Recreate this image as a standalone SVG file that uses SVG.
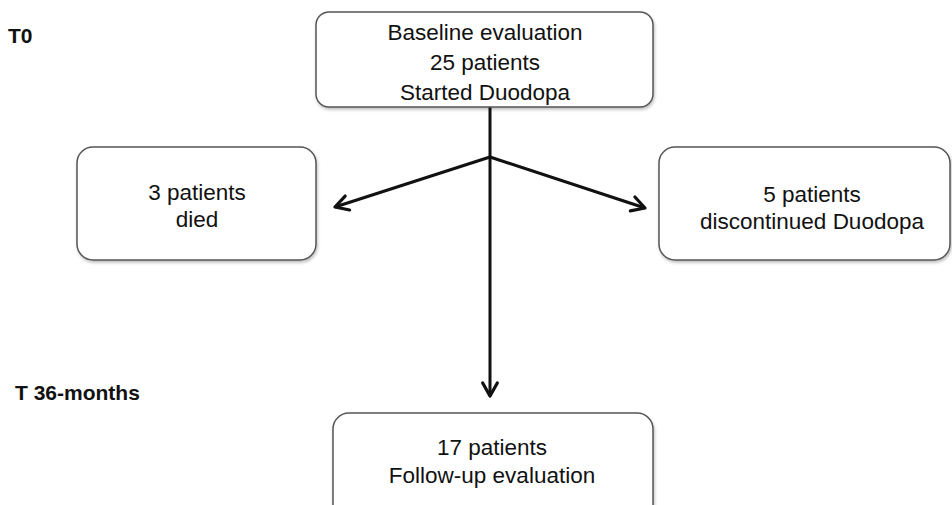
<svg xmlns="http://www.w3.org/2000/svg" width="952" height="505" viewBox="0 0 952 505">
<defs>
<marker id="ah" viewBox="0 0 12 12" refX="10" refY="6" markerWidth="6.5" markerHeight="6.5" markerUnits="strokeWidth" orient="auto">
<path d="M2,1.5 L10,6 L2,10.5" fill="none" stroke="#111" stroke-width="2" stroke-linecap="round" stroke-linejoin="round"/>
</marker>
<filter id="sh" x="-5%" y="-5%" width="110%" height="115%">
<feDropShadow dx="1" dy="2" stdDeviation="1.5" flood-color="#000" flood-opacity="0.25"/>
</filter>
</defs>
<style>
.box{fill:#fff;stroke:#555;stroke-width:1.5;filter:url(#sh)}
.t{font-family:"Liberation Sans",Arial,sans-serif;font-size:22.5px;fill:#111;text-anchor:middle}
.lbl{font-family:"Liberation Sans",Arial,sans-serif;font-size:21px;font-weight:bold;fill:#111}
.c{fill:none;stroke:#111;stroke-width:3}
</style>
<rect width="952" height="505" fill="#fff"/>
<g id="connectors">
<line class="c" x1="490" y1="107" x2="490" y2="396" marker-end="url(#ah)"/>
<line class="c" x1="490" y1="157" x2="335" y2="207" marker-end="url(#ah)"/>
<line class="c" x1="490" y1="157" x2="645" y2="208" marker-end="url(#ah)"/>
</g>
<g id="baseline">
<rect class="box" x="316" y="12" width="337" height="95" rx="13"/>
<text class="t" x="485" y="40">Baseline evaluation</text>
<text class="t" x="485" y="70">25 patients</text>
<text class="t" x="485" y="100">Started Duodopa</text>
</g>
<g id="died">
<rect class="box" x="77" y="147" width="239" height="113" rx="16"/>
<text class="t" x="197" y="200">3 patients</text>
<text class="t" x="197" y="227">died</text>
</g>
<g id="discontinued">
<rect class="box" x="659" y="147" width="291" height="113" rx="16"/>
<text class="t" x="812" y="202">5 patients</text>
<text class="t" x="812" y="229">discontinued Duodopa</text>
</g>
<g id="followup">
<rect class="box" x="333" y="413" width="320" height="110" rx="16"/>
<text class="t" x="492" y="455">17 patients</text>
<text class="t" x="492" y="483">Follow-up evaluation</text>
</g>
<g id="labels">
<text class="lbl" x="8" y="43">T0</text>
<text class="lbl" x="15" y="400">T 36-months</text>
</g>
</svg>
